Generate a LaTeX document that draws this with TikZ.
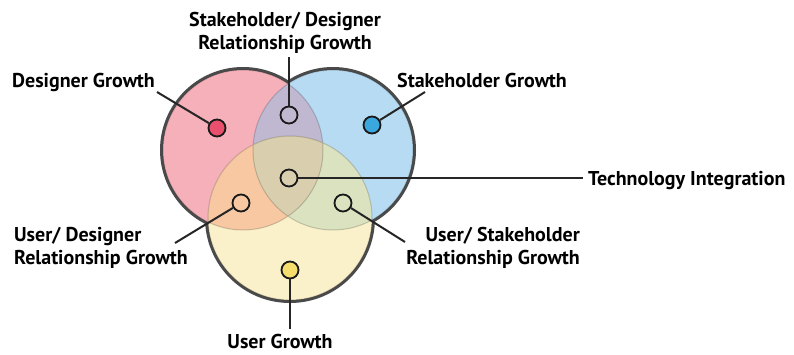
\documentclass[tikz,border=0pt]{standalone}
\usepackage{fontspec}
\setmainfont{PT Sans}
\definecolor{pinkc}{HTML}{F5B0BA}
\definecolor{bluec}{HTML}{B7DBF2}
\definecolor{yelc}{HTML}{FAF1CA}
\definecolor{pbc}{HTML}{BFB8D0}
\definecolor{pyc}{HTML}{F7C8A2}
\definecolor{byc}{HTML}{DAE2C0}
\definecolor{allc}{HTML}{D9CFAF}
\definecolor{edgec}{HTML}{4A4A4A}
\definecolor{dpink}{HTML}{E8506E}
\definecolor{dblue}{HTML}{3AA8DE}
\definecolor{dyel}{HTML}{F5DE6E}
\begin{document}
\begin{tikzpicture}[x=1pt,y=-1pt,
  font=\bfseries\fontsize{20}{23}\selectfont,
  lbl/.style={inner sep=0pt},
  dot/.style={circle,draw=black!90,line width=1.8pt,minimum size=17pt,inner sep=0pt},
  conn/.style={draw=black!85,line width=2pt}]
\useasboundingbox (0,0) rectangle (794,354);
\def\Pc{(243,150) circle[radius=80]}
\def\Bc{(333,150) circle[radius=80]}
\def\Yc{(290,218) circle[radius=82]}
\draw[edgec,line width=6pt] \Pc \Bc \Yc;
\fill[pinkc] \Pc;
\fill[bluec] \Bc;
\fill[yelc] \Yc;
\begin{scope}\clip \Pc; \fill[pbc] \Bc; \fill[pyc] \Yc; \end{scope}
\begin{scope}\clip \Bc; \fill[byc] \Yc; \end{scope}
\begin{scope}\clip \Pc; \clip \Bc; \fill[allc] \Yc; \end{scope}
\draw[black,opacity=0.18,line width=1pt] \Pc \Bc \Yc;
% dots
\node[dot,fill=dpink] (dd) at (217,128) {};
\node[dot] (dsd) at (289,115) {};
\node[dot,fill=dblue] (ds) at (372,125) {};
\node[dot] (dt) at (289,178) {};
\node[dot] (dud) at (241,203) {};
\node[dot] (dus) at (343,203) {};
\node[dot,fill=dyel] (du) at (290,270) {};
% labels
\node[lbl,align=center,anchor=north] (lsd) at (285,12) {Stakeholder/ Designer\\Relationship Growth};
\node[lbl,anchor=base west] (ld) at (12,87) {Designer Growth};
\node[lbl,anchor=base west] (ls) at (397,87) {Stakeholder Growth};
\node[lbl,anchor=base west] (lt) at (588,185) {Technology Integration};
\node[lbl,align=right,anchor=north east] (lus) at (580,227) {User/ Stakeholder\\Relationship Growth};
\node[lbl,align=left,anchor=north west] (lud) at (14,227) {User/ Designer\\Relationship Growth};
\node[lbl,anchor=base] (lu) at (280,348) {User Growth};
% connector ends
\coordinate (csd) at (289,57);
\coordinate (cd) at (157,92);
\coordinate (cs) at (425,92);
\coordinate (ct) at (583,178);
\coordinate (cus) at (405,242);
\coordinate (cud) at (175,243);
\coordinate (cu) at (290,329);
\draw[conn] (dsd) -- (csd);
\draw[conn] (dd) -- (cd);
\draw[conn] (ds) -- (cs);
\draw[conn] (dt) -- (ct);
\draw[conn] (dus) -- (cus);
\draw[conn] (dud) -- (cud);
\draw[conn] (du) -- (cu);
\end{tikzpicture}
\end{document}
